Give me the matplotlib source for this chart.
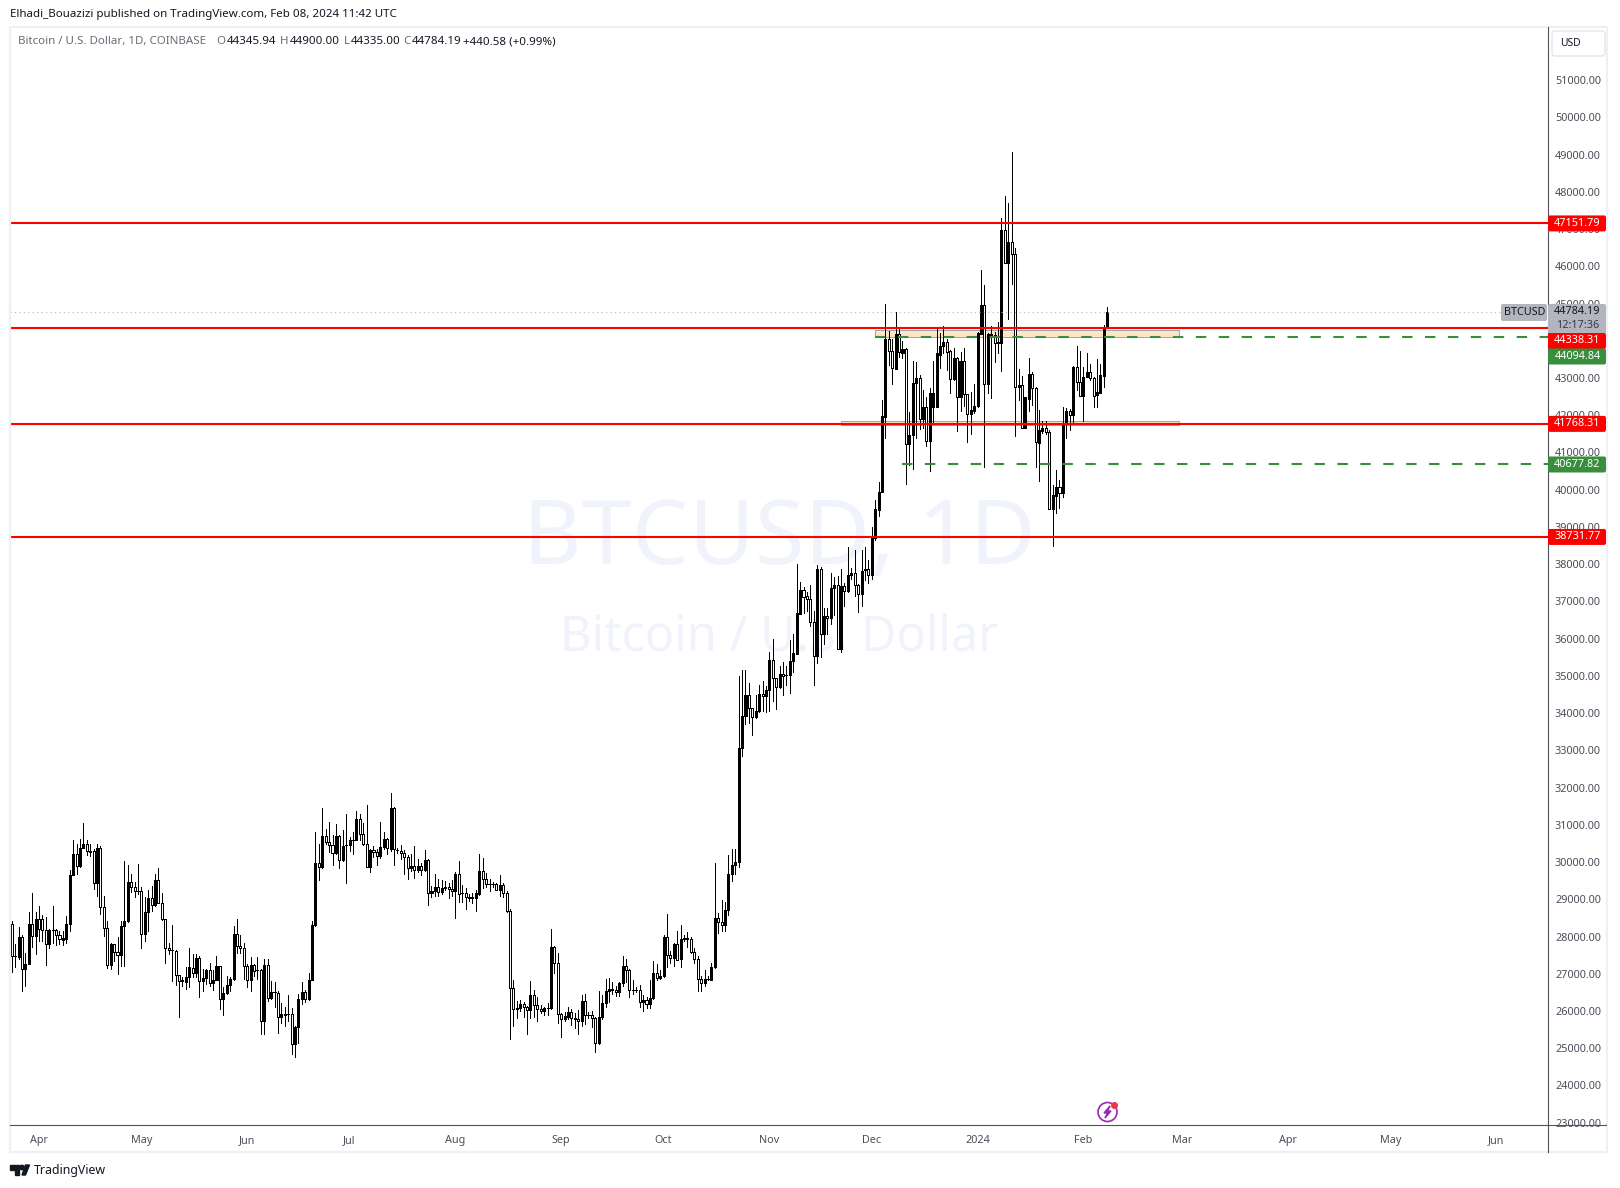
#!/usr/bin/env python3
import matplotlib
matplotlib.use("Agg")
import matplotlib.pyplot as plt
import matplotlib.dates as mdates
import pandas as pd
from matplotlib.patches import Rectangle, FancyBboxPatch, Polygon, Circle

plt.rcParams['font.family'] = ['Noto Sans', 'DejaVu Sans']

# Daily BTCUSD candles (first bar is 2023-03-24).
first_day = "2023-03-24"
opens = [
    28340,27480,27460,28000,27120,27270,28340,28020,28480,28480,
    28180,27800,28180,28180,28050,27910,27930,28340,29660,30220,
    29890,30380,30490,30290,30310,29440,30380,28790,28230,27240,
    27800,27590,27510,28290,28410,29470,29330,29230,29230,28070,
    28660,29040,28840,29530,28910,28470,27700,27640,27620,26970,
    26820,26780,26910,27160,27020,27410,26810,26880,27110,26750,
    26840,27210,26320,26490,26700,26860,28070,27750,27700,27210,
    26820,27240,27110,27110,25730,27240,26340,26510,26490,25840,
    25900,25920,25920,25110,25560,26320,26510,26320,26840,28300,
    29980,29860,30710,30550,30460,30250,30690,30060,30460,30460,
    30600,30600,31160,30760,30490,29860,30330,30280,30160,30400,
    30630,30360,31460,30330,30310,30240,30130,29840,29900,29790,
    29900,29780,30060,29160,29220,29330,29190,29310,29330,29280,
    29220,29690,29170,29170,29040,29030,29040,29150,29770,29540,
    29420,29420,29410,29250,29390,29170,28690,26620,26070,26070,
    26180,26100,26030,26430,26160,26060,25990,26080,26070,27730,
    27280,25920,25780,25850,25980,25810,25790,25720,26280,25900,
    25900,25810,25130,25830,26210,26530,26590,26570,26500,26750,
    27210,27100,26570,26570,26560,26240,26300,26180,26340,27020,
    26880,26930,28000,27510,27420,27790,27390,27940,27940,27940,
    27590,27400,26850,26750,26850,26840,27180,28500,28390,28310,
    28710,29680,29920,30000,33070,33910,34500,34140,33900,34060,
    34520,34460,34620,35440,34930,34700,35060,35030,35020,35400,
    35600,36660,37320,37140,37070,36450,35530,37860,36130,36620,
    36560,37360,37450,35720,37410,37270,37710,37770,37450,37190,
    37860,37860,37720,38690,39450,39950,41960,44060,43730,43250,
    44170,43680,43770,41220,41460,42860,42990,41910,42210,41310,
    42230,42230,43620,43860,43980,43720,42980,43550,42500,43450,
    42560,42040,42120,42250,44190,44950,42830,44170,44160,43930,
    43930,46980,46080,46640,46320,42750,42800,41670,42440,43100,
    42720,41260,41580,41650,41540,39490,39840,40060,39920,41760,
    42110,42010,43290,42900,42520,43030,43150,42990,42540,42610,
    43060,44345.94,
]
closes = [
    27480,27470,28000,27120,27270,28340,28020,28480,28210,28180,
    27800,28180,28170,28050,27930,27960,28340,29660,30220,29890,
    30380,30490,30290,30280,29440,30380,28790,28230,27240,27800,
    27590,27510,28290,28430,29470,29330,29230,29220,28070,28660,
    29040,28840,29530,28910,28470,27700,27640,27630,26970,26810,
    26800,26920,27180,27010,27410,26810,26890,27110,26750,26840,
    27210,26320,26490,26700,26860,28070,27750,27700,27210,26840,
    27240,27080,27090,25730,27240,26350,26510,26500,25840,25920,
    25920,25910,25110,25570,26320,26510,26320,26840,28310,29980,
    29860,30710,30550,30460,30250,30690,30060,30440,30450,30580,
    30580,31160,30760,30490,29880,30330,30280,30160,30400,30630,
    30380,31460,30360,30320,30250,30130,29840,29900,29790,29900,
    29780,30060,29170,29220,29340,29200,29310,29330,29280,29230,
    29690,29150,29160,29060,29070,29050,29170,29770,29540,29410,
    29410,29410,29250,29390,29170,28690,26620,26060,26060,26180,
    26100,26030,26430,26160,26060,26000,26070,26070,27730,27280,
    25920,25780,25870,25980,25810,25790,25720,26280,25890,25890,
    25810,25140,25840,26220,26540,26590,26560,26500,26760,27210,
    27100,26560,26560,26560,26240,26300,26190,26350,27020,26890,
    26940,28000,27510,27430,27790,27380,27940,27960,27960,27590,
    27400,26850,26750,26850,26860,27190,28500,28390,28310,28720,
    29690,29930,30010,33070,33910,34500,34140,33900,34070,34520,
    34460,34630,35440,34930,34700,35060,35010,35020,35410,35620,
    36700,37320,37120,37070,36450,35530,37860,36130,36620,36560,
    37370,37450,35720,37410,37280,37720,37770,37450,37200,37830,
    37850,37720,38690,39470,39950,41980,44060,43730,43260,44170,
    43690,43770,41220,41460,42860,42990,41910,42210,41310,42610,
    42610,43660,43860,43980,43690,42980,43550,42480,43450,42560,
    42040,42130,42260,44210,44950,42830,44170,44160,43950,43960,
    46980,46100,46640,46320,42750,42800,41670,42480,43100,42720,
    41270,41600,41650,41540,39490,39850,40060,39920,41780,42110,
    42020,43290,42900,42520,43040,43150,42990,42520,42630,43070,
    44320,44784.19,
]
highs = [
    28430,27800,28250,28030,27550,28650,29180,28650,28830,28570,
    28520,28190,28810,28190,28160,28140,28540,29790,30580,30490,
    30630,31050,30600,30490,30360,30490,30420,29100,28430,27820,
    27810,28000,28430,30040,29910,29690,29460,29950,29330,29060,
    29240,29370,29690,29850,29180,28480,27820,28320,27640,26980,
    26910,27180,27680,27520,27540,27490,27130,27130,27290,27100,
    27490,27220,26640,26950,26910,28270,28480,28030,27820,27250,
    27450,27270,27460,27130,27400,27400,26800,26770,26530,26210,
    26100,26440,26080,25610,26460,26780,26570,27020,28410,30810,
    30490,31440,30900,31070,30720,31030,30720,30850,31280,30670,
    30810,31370,31300,31050,31520,30360,30420,30360,31070,30810,
    30650,31860,31480,30380,30450,30330,30180,30210,30420,30070,
    29970,30330,30090,29370,29690,29550,29520,29490,29440,29520,
    29720,30040,29390,29310,29150,29160,29240,30220,30120,29710,
    29540,29470,29440,29660,29440,29220,28740,26840,26280,26300,
    26240,26140,26810,26570,26370,26170,26120,26210,28190,27740,
    27570,25940,25980,26120,26060,25950,26030,26440,26460,25960,
    26010,25830,26550,26420,26860,26890,26790,26670,26770,27480,
    27400,27130,26820,26640,26710,26430,26370,26840,27330,27250,
    27100,28050,28610,27620,27830,28140,28300,28030,28130,28000,
    27680,27490,26940,27100,26950,27300,29980,28640,28990,28930,
    30190,30360,30360,34990,35150,35150,34820,34150,34500,34750,
    34850,34720,35630,35980,34940,35270,35380,35270,35960,36120,
    38000,37530,37390,37250,37430,36740,37970,37930,36810,36830,
    37770,37660,37680,37860,37500,38450,37910,38390,37460,38390,
    38450,38120,39000,39720,40200,42410,44990,44260,44050,44760,
    44360,44000,43800,42090,43460,43440,43070,42680,42500,42720,
    43460,44310,44220,44390,44040,43750,43800,43570,43710,43800,
    42570,42630,42840,44240,45900,45500,44200,44410,44240,44500,
    47290,47890,47690,49060,46480,43230,43050,42500,43550,43170,
    42750,42140,41850,41850,41600,40120,40530,40260,42230,42190,
    42180,43320,43860,43730,43300,43660,43370,43030,43500,43370,
    44420,44900,
]
lows = [
    27040,27190,27400,26530,26660,27250,27710,27540,27890,27890,
    27230,27700,27820,27760,27790,27760,27820,28160,29640,29670,
    29880,30400,30180,30150,29280,29100,28610,28020,27150,27130,
    27340,27000,27220,27220,28390,29190,29060,29130,27690,27880,
    28140,28680,28810,28900,28450,27280,27520,26800,26710,25830,
    26660,26580,26640,26910,26910,26370,26550,26730,26680,26570,
    26820,26060,25890,26460,26550,26820,27550,27570,26850,26640,
    26530,26930,26860,25380,25370,26280,26320,26100,25400,25670,
    25610,25740,24850,24760,25150,26190,26240,26300,26820,28270,
    29530,29850,30490,30270,29910,30220,29840,30040,29430,30310,
    30210,30580,30600,30470,29860,29730,30130,29910,30120,30360,
    30210,30310,29910,30240,30070,29670,29540,29760,29580,29730,
    29650,29760,28860,29060,29100,29080,29150,29250,29040,29100,
    28490,28920,28940,28750,28950,28900,28680,29110,29310,29330,
    29210,29330,29240,29080,29060,28670,25240,25610,25810,25990,
    25830,25370,25810,25850,25740,25940,25880,25900,26060,27010,
    25670,25310,25720,25780,25630,25550,25370,25610,25650,25810,
    25580,24910,25120,25780,26120,26240,26460,26410,26390,26680,
    26790,26370,26460,26500,26120,25990,26080,26080,26320,26820,
    26870,26920,27180,27300,27210,27360,27180,27880,27710,27570,
    27280,26530,26550,26660,26820,26820,27150,28090,28160,28140,
    28590,29490,29670,29880,32850,33700,33730,33410,33880,34040,
    34070,34020,34070,34320,34110,34680,34500,34750,34540,35100,
    35590,36650,36690,36740,36330,34750,35350,35510,35850,36130,
    36390,36630,35710,35630,36870,37250,37590,37140,36720,36880,
    37570,37500,37590,38660,39290,39930,41380,43350,42840,43230,
    43570,43540,40150,40660,40560,41400,41640,41650,41170,40510,
    41780,42210,43260,43660,43210,42600,42960,41580,42120,42260,
    41290,41490,42070,42230,44170,40620,42590,42450,43440,43660,
    43200,46080,44580,45530,41450,42410,41660,41650,42120,42270,
    40600,40240,41510,41490,39470,38490,39380,39500,39810,41380,
    41600,41780,42680,42510,41850,43020,42960,42230,42230,42600,
    42770,44335,
]

red_levels = [47151.79, 44338.31, 41768.31, 38731.77]
last_price = 44784.19
green_levels = [(44094.84, "2023-12-02"), (40677.82, "2023-12-10")]
zones = [("2023-12-02", "2024-02-29", 44110, 44290), ("2023-11-22", "2024-02-29", 41726, 41852)]
price_ticks = list(range(23000, 52000, 1000))
month_ticks = ["2023-04-01", "2023-05-01", "2023-06-01", "2023-07-01", "2023-08-01", "2023-09-01", "2023-10-01",
               "2023-11-01", "2023-12-01", "2024-01-01", "2024-02-01", "2024-03-01", "2024-04-01", "2024-05-01",
               "2024-06-01"]
month_labels = ["Apr", "May", "Jun", "Jul", "Aug", "Sep", "Oct", "Nov", "Dec", "2024", "Feb", "Mar", "Apr", "May", "Jun"]

W, H = 1620, 1188
RED = "#ff0000"
GREEN = "#388e3c"
GREY = "#b2b5be"
AXIS = "#50535e"
TEXT = "#4a4e59"


def day(s):
    return mdates.date2num(pd.Timestamp(s))


fig = plt.figure(figsize=(W / 100, H / 100), dpi=100)
ax = fig.add_axes([10 / W, (H - 1125) / H, 1538 / W, 1098 / H])

x = [day(first_day) + i for i in range(len(opens))]
x_per_px = 1 / 3.413
ax.set_xlim(x[0] - 1.7 * x_per_px, x[0] + (1548 - 11.7) * x_per_px)
ax.set_ylim(23000 - 2.3 / 0.0372, 23000 + 1094.7 / 0.0372)

# watermark sits behind everything
ax.text(0.5, 0.5317, "BTCUSD, 1D", transform=ax.transAxes, ha="center", va="center",
        fontsize=65, color="#f0f3fb", zorder=1)
ax.text(0.5, 0.444, "Bitcoin / U.S. Dollar", transform=ax.transAxes, ha="center", va="center",
        fontsize=35, color="#f0f3fb", zorder=1)

for left, right, low, high in zones:
    ax.add_patch(Rectangle((day(left), low), day(right) - day(left), high - low, facecolor="#fde5c8",
                           edgecolor="#a5a5a5", linewidth=0.75, zorder=1.5))

# candles, filled is up and hollow is down on this chart
ax.vlines(x, lows, highs, color="black", linewidth=0.72, antialiased=False, zorder=2)
bottoms = [min(o, c) for o, c in zip(opens, closes)]
heights = [abs(o - c) for o, c in zip(opens, closes)]
faces = ["black" if c >= o else "white" for o, c in zip(opens, closes)]
ax.bar(x, heights, width=0.6, bottom=bottoms, color=faces, edgecolor="black", linewidth=0.72, antialiased=False,
       zorder=3)

ax.axhline(last_price, color=GREY, linewidth=0.8, linestyle=(0, (1, 3)), zorder=4)
for level in red_levels:
    ax.axhline(level, color=RED, linewidth=1.5, zorder=5)
for level, start in green_levels:
    ax.hlines(level, day(start), ax.get_xlim()[1], color=GREEN, linewidth=1.5, linestyles=(0, (5, 6)), zorder=5)

for side in ["top", "left", "right", "bottom"]:
    ax.spines[side].set_visible(False)
ax.yaxis.tick_right()
ax.set_yticks(price_ticks)
ax.set_yticklabels(["{:.2f}".format(p) for p in price_ticks], fontsize=7.8, color=TEXT)
ax.set_xticks([day(d) for d in month_ticks])
ax.set_xticklabels(month_labels, fontsize=7.8, color=TEXT)
ax.get_xticklabels()[9].set_fontweight("bold")
ax.tick_params(axis="both", length=0)
ax.tick_params(axis="y", pad=5)
ax.tick_params(axis="x", pad=7)

# overlay in pixel units for the panel furniture around the plot
over = fig.add_axes([0, 0, 1, 1], zorder=5)
over.set_xlim(0, W)
over.set_ylim(H, 0)
over.axis("off")
over.patch.set_alpha(0)


def price_y(p):
    return H - ax.transData.transform((x[0], p))[1]


def badge(y0, y1, text, color, x0=1548, x1=1606, text_color="white", z=3):
    over.add_patch(FancyBboxPatch((x0, y0), x1 - x0, y1 - y0, boxstyle="round,pad=0,rounding_size=2",
                                  facecolor=color, edgecolor="none", zorder=z))
    over.text((x0 + x1) / 2 + 0.5, (y0 + y1) / 2 - 0.3, text, color=text_color, fontsize=7.8, ha="center", va="center",
              zorder=z + 0.5)


over.add_patch(Rectangle((10, 27), 1597, 1125, fill=False, edgecolor="#eef0f6", linewidth=1.6))
over.plot([1548, 1548], [27, 1152], color=AXIS, linewidth=0.8)
over.plot([10, 1606], [1125, 1125], color=AXIS, linewidth=0.8)

over.add_patch(FancyBboxPatch((1552, 31), 53, 25, boxstyle="round,pad=0,rounding_size=3", facecolor="white",
                              edgecolor="#e0e3eb", linewidth=0.9))
over.text(1570, 44, "USD", fontsize=7.4, color="#131722", ha="center", va="center")

# last price group
over.add_patch(FancyBboxPatch((1548, 304), 58, 30, boxstyle="round,pad=0,rounding_size=2", facecolor=GREY,
                              edgecolor="none", zorder=3))
over.text(1577.5, 312, "{:.2f}".format(last_price), fontsize=7.8, color="#131722", ha="center", va="center", zorder=4)
over.text(1577.5, 325, "12:17:36", fontsize=7.8, color="#363a45", ha="center", va="center", zorder=4)
badge(304, 321, "BTCUSD", GREY, x0=1501, x1=1547, text_color="#131722")

for level, y_mid, color in [(47151.79, price_y(47151.79), RED), (44338.31, 341, RED), (44094.84, 356.5, GREEN),
                            (41768.31, price_y(41768.31), RED), (40677.82, price_y(40677.82), GREEN),
                            (38731.77, price_y(38731.77), RED)]:
    badge(y_mid - 8, y_mid + 8, "{:.2f}".format(level), color)

# header and legend
over.text(10, 14.5, "Elhadi_Bouazizi published on TradingView.com, Feb 08, 2024 11:42 UTC", fontsize=8.3,
          color="#131722", va="center")
LEGEND = "#6a6d78"
over.text(18, 41.5, "Bitcoin / U.S. Dollar, 1D, COINBASE", fontsize=8.3, color=LEGEND, va="center")
for xpos, letter, xval, value in [(216, "O", 226.5, "44345.94"), (280, "H", 290, "44900.00"),
                                  (344, "L", 350.5, "44335.00"), (403, "C", 412, "44784.19")]:
    over.text(xpos, 41.5, letter, fontsize=8.3, color=LEGEND, va="center")
    over.text(xval, 41.5, value, fontsize=8.3, color="#131722", va="center")
over.text(463, 41.5, "+440.58 (+0.99%)", fontsize=8.3, color="#131722", va="center")

# TradingView logo
over.add_patch(Polygon([(10, 1165), (19, 1165), (19, 1175), (15, 1175), (15, 1170), (10, 1170)], color="#131722"))
over.add_patch(Circle((22, 1167.5), 2.2, color="#131722"))
over.add_patch(Polygon([(22, 1175), (25.5, 1165), (29.5, 1165), (25.5, 1175)], color="#131722"))
over.text(33.5, 1170.5, "TradingView", fontsize=8.9, color="#131722", va="center")

# lightning icon near the bottom axis
over.add_patch(Circle((1107.5, 1112), 9.5, fill=False, edgecolor="#9c27b0", linewidth=1.2))
over.add_patch(Polygon([(1110, 1106), (1104, 1113), (1107.5, 1113), (1105, 1118), (1111, 1111), (1107.5, 1111)],
                       color="#9c27b0"))
over.add_patch(Circle((1114.5, 1105.5), 2.8, color="#f23645"))

fig.savefig("out.png", dpi=100)
